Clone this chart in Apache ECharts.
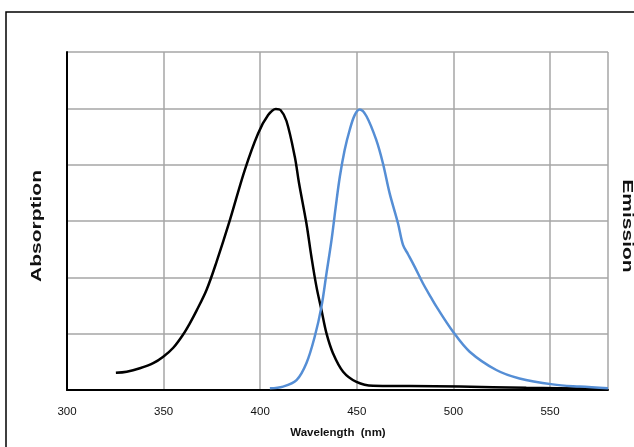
<!DOCTYPE html>
<html>
<head>
<meta charset="utf-8">
<script src="https://cdn.jsdelivr.net/npm/echarts@6/dist/echarts.min.js"></script>
<style>html,body{margin:0;padding:0;background:#fff}#c{width:634px;height:447px}</style>
</head>
<body>
<div id="c"></div>
<script>
const xTicks = [300, 350, 400, 450, 500, 550];
const absWl  = [325.3, 330.9, 337.7, 344.6, 349.8, 355, 360.1, 363.5, 367, 372.2, 377.4, 384.3, 392, 398.9, 404.1, 408.1, 410.5, 413.6, 417.9, 420.1, 423.9, 426.5, 429.1, 431.7, 434.3, 437.7, 442.9, 449.8, 458.4, 477.4, 503.2, 537.7, 580];
const absVal = [0.061, 0.065, 0.077, 0.095, 0.118, 0.150, 0.197, 0.236, 0.281, 0.355, 0.455, 0.603, 0.781, 0.911, 0.976, 0.998, 0.994, 0.955, 0.828, 0.734, 0.592, 0.473, 0.367, 0.284, 0.201, 0.130, 0.065, 0.029, 0.015, 0.014, 0.012, 0.008, 0.004];
const emWl  = [405, 411.8, 418.8, 423.9, 428.2, 431.7, 434.3, 436.9, 439.1, 441.2, 443.7, 446.3, 448.9, 451.5, 455, 460.1, 463.5, 467, 471.3, 473.9, 476.5, 479.9, 484.2, 488.6, 491.2, 499.8, 508.4, 522.2, 534.2, 551.4, 565.3, 580];
const emVal = [0.006, 0.012, 0.035, 0.095, 0.189, 0.296, 0.414, 0.532, 0.651, 0.757, 0.852, 0.923, 0.976, 0.996, 0.972, 0.887, 0.805, 0.698, 0.592, 0.515, 0.482, 0.438, 0.379, 0.326, 0.296, 0.207, 0.136, 0.071, 0.041, 0.020, 0.012, 0.006];
const xTitle = 'Wavelength  (nm)';
const yLeftTitle = 'Absorption';
const yRightTitle = 'Emission';

const chart = echarts.init(document.getElementById('c'), null, {renderer: 'canvas'});
const font = '"Liberation Sans", Arial, sans-serif';
chart.setOption({
  animation: false,
  backgroundColor: '#fff',
  grid: {left: 67, right: 26, top: 52, bottom: 57, containLabel: false},
  xAxis: {
    type: 'value', min: 300, max: 580, interval: 50,
    axisLine: {show: true, onZero: false, lineStyle: {color: '#000', width: 2}},
    axisTick: {show: false},
    axisLabel: {show: true, showMaxLabel: false, margin: 16, color: '#111', fontSize: 11.5, fontFamily: font,
      formatter: v => xTicks.indexOf(v) >= 0 ? String(v) : ''},
    splitLine: {show: true, lineStyle: {color: '#a6a6a6', width: 1.5}}
  },
  yAxis: {
    type: 'value', min: 0, max: 1.2, interval: 0.2,
    axisLine: {show: true, lineStyle: {color: '#000', width: 2}},
    axisTick: {show: false},
    axisLabel: {show: false},
    splitLine: {show: true, lineStyle: {color: '#a6a6a6', width: 1.5}}
  },
  series: [
    {type: 'line', data: absWl.map((w, i) => [w, absVal[i]]), showSymbol: false, smooth: 0.35,
     lineStyle: {color: '#000', width: 2.5}, z: 3},
    {type: 'line', data: emWl.map((w, i) => [w, emVal[i]]), showSymbol: false, smooth: 0.35,
     lineStyle: {color: '#558ed5', width: 2.5}, z: 4}
  ],
  graphic: [
    {type: 'rect', x: 6, y: 12, shape: {x: 0, y: 0, width: 700, height: 500}, style: {fill: 'none', stroke: '#000', lineWidth: 1.5}, z: 100},
    {type: 'text', x: 338, y: 433, style: {text: xTitle, font: 'bold 11.5px ' + font, fill: '#111', textAlign: 'center', textVerticalAlign: 'middle'}},
    {type: 'text', x: 37, y: 226, rotation: Math.PI / 2, scaleX: 1.4, style: {text: yLeftTitle, font: 'bold 15px ' + font, fill: '#111', textAlign: 'center', textVerticalAlign: 'middle'}},
    {type: 'text', x: 627, y: 226, rotation: -Math.PI / 2, scaleX: 1.4, style: {text: yRightTitle, font: 'bold 15px ' + font, fill: '#111', textAlign: 'center', textVerticalAlign: 'middle'}}
  ]
});
</script>
</body>
</html>
